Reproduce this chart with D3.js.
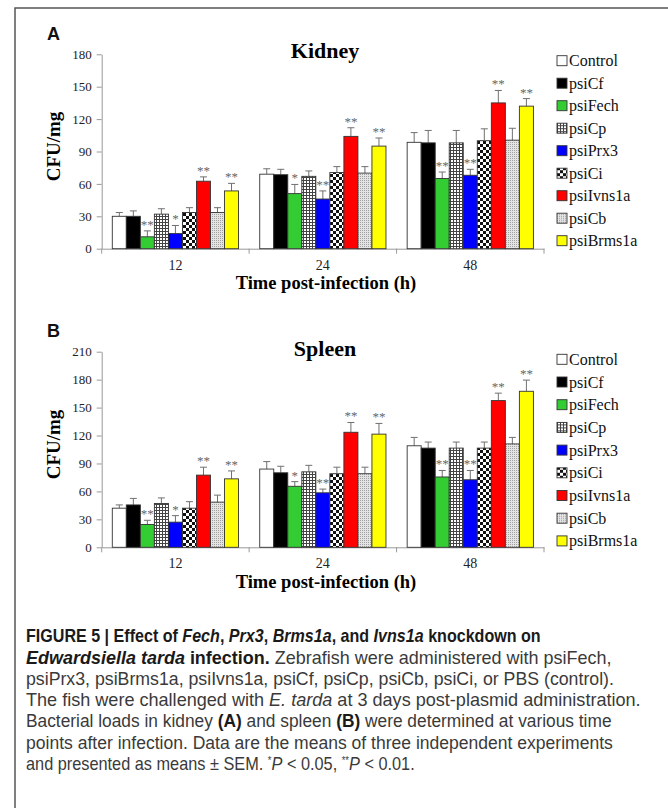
<!DOCTYPE html>
<html>
<head>
<meta charset="utf-8">
<script src="https://cdn.jsdelivr.net/npm/d3@7"></script>
<style>
  html, body { margin: 0; padding: 0; background: #fff; }
  svg { display: block; }
</style>
</head>
<body>
<svg id="fig" width="668" height="808"></svg>
<script>
// data
const times = ['12', '24', '48']
const series = ['Control', 'psiCf', 'psiFech', 'psiCp', 'psiPrx3', 'psiCi', 'psiIvns1a', 'psiCb', 'psiBrms1a']
const fills = ['#ffffff', '#000000', '#33cc33', 'url(#patGrid)', '#0000ff', 'url(#patCheck)', '#ff0000', 'url(#patDots)', '#ffff00']

// one row per series, one value per time point
const kidneyMeans = [
    [30, 69, 98.5],
    [30, 68.5, 98],
    [11, 51, 65],
    [32, 67, 98],
    [14, 46, 68],
    [33.5, 70.5, 100],
    [62.5, 104, 135],
    [33.5, 70, 100.5],
    [53.5, 95, 132]
]
const kidneyErrors = [
    [3.5, 5, 9],
    [5, 5, 11.5],
    [5.5, 8.5, 6],
    [5, 5, 11.5],
    [7.5, 7.5, 5.5],
    [4.5, 5.5, 11],
    [4, 8, 11.5],
    [4.5, 6, 11],
    [7, 7.5, 7]
]
const kidneySig = [
    ['', '', ''],
    ['', '', ''],
    ['**', '*', '**'],
    ['', '', ''],
    ['*', '**', '**'],
    ['', '', ''],
    ['**', '**', '**'],
    ['', '', ''],
    ['**', '**', '**']
]

const spleenMeans = [
    [42, 84, 109],
    [45.5, 80, 106.5],
    [24.5, 65.5, 75.5],
    [47, 81, 106.5],
    [27, 58.5, 72.5],
    [42, 79, 106.5],
    [77.5, 123.5, 157.5],
    [48.5, 79, 111],
    [73.5, 121.5, 167.5]
]
const spleenErrors = [
    [3.5, 8, 9],
    [7, 7, 6.5],
    [4.5, 5, 7],
    [6, 7, 6.5],
    [7, 4, 10],
    [7, 7, 6.5],
    [8.5, 10.5, 8],
    [7.5, 7, 7],
    [8.5, 11.5, 12]
]
const spleenSig = [
    ['', '', ''],
    ['', '', ''],
    ['**', '*', '**'],
    ['', '', ''],
    ['*', '**', '**'],
    ['', '', ''],
    ['**', '**', '**'],
    ['', '', ''],
    ['**', '**', '**']
]

const kidneyTicks = [0, 30, 60, 90, 120, 150, 180]
const spleenTicks = [0, 30, 60, 90, 120, 150, 180, 210]

const serif = '"Liberation Serif", "Times New Roman", serif'
const sans = '"Liberation Sans", Arial, Helvetica, sans-serif'

const svg = d3.select('#fig')

// fill patterns for the hatched series
const defs = svg.append('defs')
const pg = defs.append('pattern').attr('id', 'patGrid').attr('patternUnits', 'userSpaceOnUse').attr('width', 3).attr('height', 3)
pg.append('rect').attr('width', 3).attr('height', 3).attr('fill', '#fff')
pg.append('path').attr('d', 'M0,0.5H3M0.5,0V3').attr('stroke', '#444').attr('stroke-width', 1)
const pc = defs.append('pattern').attr('id', 'patCheck').attr('patternUnits', 'userSpaceOnUse').attr('width', 6).attr('height', 6)
pc.append('rect').attr('width', 6).attr('height', 6).attr('fill', '#fff')
pc.append('rect').attr('width', 3).attr('height', 3).attr('fill', '#111')
pc.append('rect').attr('x', 3).attr('y', 3).attr('width', 3).attr('height', 3).attr('fill', '#111')
const pd = defs.append('pattern').attr('id', 'patDots').attr('patternUnits', 'userSpaceOnUse').attr('width', 2).attr('height', 2)
pd.append('rect').attr('width', 2).attr('height', 2).attr('fill', '#e4e4e4')
pd.append('rect').attr('width', 1).attr('height', 1).attr('fill', '#a0a0a0')

// frame
svg.append('path').attr('d', 'M15,808V8H668').attr('fill', 'none').attr('stroke', '#555').attr('stroke-width', 1.5)

const x0 = d3.scaleBand().domain(times).range([101.7, 544]).padding(0)
const x1 = d3.scaleBand().domain(series).range([0, x0.bandwidth()]).paddingInner(0).paddingOuter(0.755)

function drawPanel(cfg) {
    const y = d3.scaleLinear().domain([0, cfg.ticks[cfg.ticks.length - 1]]).range([cfg.bottom, cfg.top])
    const g = svg.append('g')

    // panel letter
    g.append('text').attr('x', 47).attr('y', cfg.top - 14.5).text(cfg.letter)
        .style('font-family', sans).style('font-weight', 'bold').style('font-size', '18px').style('fill', '#111')

    // title
    g.append('text').attr('x', 325).attr('y', cfg.top + 4).attr('text-anchor', 'middle').text(cfg.title)
        .style('font-family', serif).style('font-weight', 'bold').style('font-size', '22px').style('fill', '#000')

    // y axis
    const ya = g.append('g').attr('transform', `translate(${x0.range()[0]},0)`)
        .call(d3.axisLeft(y).tickValues(cfg.ticks).tickSize(5).tickSizeOuter(0).tickPadding(5))
    ya.select('.domain').attr('stroke', '#999')
    ya.selectAll('.tick line').attr('stroke', '#999')
    ya.selectAll('.tick text').style('font-family', serif).style('font-size', '13px').style('fill', '#222')

    // x axis
    const xa = g.append('g').attr('transform', `translate(0,${cfg.bottom})`)
        .call(d3.axisBottom(x0).tickSize(0).tickSizeOuter(0).tickPadding(11))
    xa.select('.domain').attr('stroke', '#999')
    xa.selectAll('.tick text').style('font-family', serif).style('font-size', '14px').style('fill', '#222')
    const edges = times.map(t => x0(t)).concat([x0.range()[1]])
    xa.selectAll('.edge').data(edges).enter().append('line')
        .attr('x1', d => d).attr('x2', d => d).attr('y1', 0).attr('y2', 5).attr('stroke', '#999')

    // axis titles
    g.append('text').attr('transform', `translate(60,${(cfg.top + cfg.bottom) / 2 - 5}) rotate(-90)`)
        .attr('text-anchor', 'middle').text('CFU/mg')
        .style('font-family', serif).style('font-weight', 'bold').style('font-size', '19px').style('fill', '#000')
    g.append('text').attr('x', 326).attr('y', cfg.bottom + 40.5).attr('text-anchor', 'middle').text('Time post-infection (h)')
        .style('font-family', serif).style('font-weight', 'bold').style('font-size', '18.5px').style('fill', '#000')

    // bars
    const rows = []
    series.forEach((s, i) => times.forEach((t, j) => {
        rows.push({ s: s, t: t, i: i, v: cfg.means[i][j], e: cfg.errors[i][j], sig: cfg.sig[i][j] })
    }))
    const cx = d => x0(d.t) + x1(d.s) + x1.bandwidth() / 2

    g.selectAll('.err').data(rows).enter().append('path')
        .attr('d', d => `M${cx(d)},${y(d.v)}V${y(d.v + d.e)}M${cx(d) - 3.5},${y(d.v + d.e)}H${cx(d) + 3.5}`)
        .attr('fill', 'none').attr('stroke', '#707070').attr('stroke-width', 1)
    g.selectAll('.bar').data(rows).enter().append('rect')
        .attr('x', d => x0(d.t) + x1(d.s)).attr('width', x1.bandwidth())
        .attr('y', d => y(d.v)).attr('height', d => y(0) - y(d.v))
        .attr('fill', d => fills[d.i]).attr('stroke', '#333').attr('stroke-width', 0.9)
    g.selectAll('.sig').data(rows.filter(d => d.sig)).enter().append('text')
        .attr('x', cx).attr('y', d => y(d.v + d.e) - 2).attr('text-anchor', 'middle').text(d => d.sig)
        .style('font-family', serif).style('font-size', '13px').style('fill', '#666')

    // legend
    const lg = g.selectAll('.leg').data(series).enter().append('g')
        .attr('transform', (d, i) => `translate(557,${cfg.legendTop + i * cfg.legendStep})`)
    lg.append('rect').attr('x', 0).attr('y', -5).attr('width', 10).attr('height', 10)
        .attr('fill', (d, i) => fills[i]).attr('stroke', '#333').attr('stroke-width', 0.9)
    lg.append('text').attr('x', 12).attr('y', 5.5).text(d => d)
        .style('font-family', serif).style('font-size', '16px').style('fill', '#111')
}

drawPanel({ letter: 'A', title: 'Kidney', top: 54.3, bottom: 248.7, ticks: kidneyTicks,
    means: kidneyMeans, errors: kidneyErrors, sig: kidneySig, legendTop: 60.7, legendStep: 22.5 })
drawPanel({ letter: 'B', title: 'Spleen', top: 351.7, bottom: 547.3, ticks: spleenTicks,
    means: spleenMeans, errors: spleenErrors, sig: spleenSig, legendTop: 359.3, legendStep: 22.7 })

// caption, lines as runs of [text, style]
const caption = [
    [['FIGURE 5 | Effect of ', 'b'], ['Fech', 'bi'], [', ', 'b'], ['Prx3', 'bi'], [', ', 'b'], ['Brms1a', 'bi'], [', and ', 'b'], ['Ivns1a', 'bi'], [' knockdown on', 'b']],
    [['Edwardsiella tarda', 'bi'], [' infection.', 'b'], [' Zebrafish were administered with psiFech,', '']],
    [['psiPrx3, psiBrms1a, psiIvns1a, psiCf, psiCp, psiCb, psiCi, or PBS (control).', '']],
    [['The fish were challenged with ', ''], ['E. tarda', 'i'], [' at 3 days post-plasmid administration.', '']],
    [['Bacterial loads in kidney ', ''], ['(A)', 'b'], [' and spleen ', ''], ['(B)', 'b'], [' were determined at various time', '']],
    [['points after infection. Data are the means of three independent experiments', '']],
    [['and presented as means \u00b1 SEM. ', ''], ['*', 'sup'], ['P', 'i'], [' < 0.05, ', ''], ['**', 'sup'], ['P', 'i'], [' < 0.01.', '']]
]
// right end of each caption line in the figure
const captionEnds = [541, 612, 614, 641, 612, 613, 415]

const cap = svg.append('g')
const capLines = cap.selectAll('text').data(caption).enter().append('text')
    .attr('y', (d, i) => 642.3 + i * 21.3)
    .style('font-family', sans).style('font-size', '17.5px').style('fill', '#3a3a3a')
capLines.each(function (runs) {
    const t = d3.select(this)
    runs.forEach(r => {
        const sp = t.append('tspan').text(r[0])
        if (r[1].includes('b')) sp.style('font-weight', 'bold').style('fill', '#1a1a1a')
        if (r[1].includes('i')) sp.style('font-style', 'italic')
        if (r[1] === 'sup') sp.style('font-size', '10px').attr('baseline-shift', '6')
    })
})
// squeeze each line to the narrow face used in the figure
capLines.attr('transform', function (d, i) {
    const k = (captionEnds[i] - 26) / this.getComputedTextLength()
    return `translate(26,0) scale(${k},1)`
})
</script>
</body>
</html>
